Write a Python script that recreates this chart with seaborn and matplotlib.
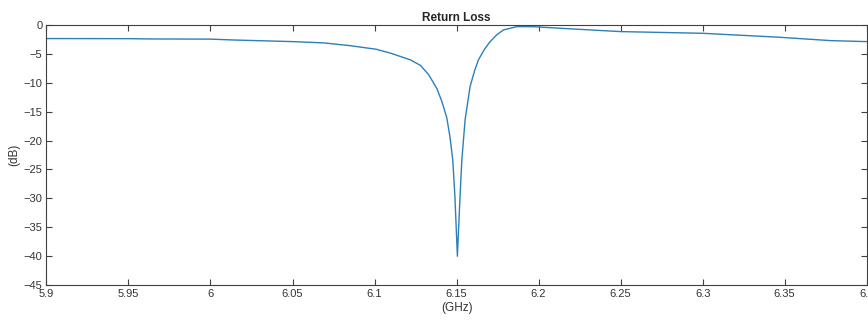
import matplotlib
matplotlib.use("Agg")
import matplotlib.pyplot as plt
import seaborn as sns

# return loss
freq_ghz = [5.900, 5.950, 5.963, 6.000, 6.014, 6.050, 6.069, 6.085, 6.101, 6.110,
            6.122, 6.128, 6.133, 6.138, 6.141, 6.144, 6.146, 6.1477, 6.149, 6.1505,
            6.1521, 6.1532, 6.1552, 6.1582, 6.161, 6.1633, 6.167, 6.1704, 6.1745, 6.1785,
            6.1867, 6.197, 6.213, 6.250, 6.300, 6.347, 6.378, 6.400]
s11_db = [-2.35, -2.37, -2.42, -2.45, -2.6, -2.88, -3.1, -3.58, -4.2, -4.9,
          -6.05, -7.0, -8.6, -11.0, -13.2, -16.0, -19.4, -23.4, -29.7, -40.0,
          -29.7, -23.4, -16.4, -10.7, -7.9, -6.05, -4.2, -2.9, -1.7, -0.87,
          -0.29, -0.3, -0.57, -1.15, -1.44, -2.13, -2.71, -2.88]

xticks = [5.9, 5.95, 6.0, 6.05, 6.1, 6.15, 6.2, 6.25, 6.3, 6.35, 6.4]
xtick_labels = ["5.9", "5.95", "6", "6.05", "6.1", "6.15", "6.2", "6.25", "6.3", "6.35", "6.4"]
yticks = [0, -5, -10, -15, -20, -25, -30, -35, -40, -45]

sns.set_style("white")
plt.rcParams["font.family"] = ["Liberation Sans", "DejaVu Sans"]

fig = plt.figure(figsize=(8.68, 3.2), dpi=100)
ax = fig.add_axes([0.0535, 0.109, 0.945, 0.813])

sns.lineplot(x=freq_ghz, y=s11_db, ax=ax, color="#2b80b9", linewidth=1.0)

ax.set_xlim(5.9, 6.4)
ax.set_ylim(-45, 0)
ax.set_xticks(xticks)
ax.set_xticklabels(xtick_labels)
ax.set_yticks(yticks)
ax.tick_params(direction="in", length=4, width=0.8, colors="#404040",
               labelsize=8, labelcolor="#333333", top=True, right=True,
               bottom=True, left=True, pad=3)
for s in ax.spines.values():
    s.set_color("#404040")
    s.set_linewidth(0.8)

ax.set_title("Return Loss", fontsize=8.5, fontweight="bold", pad=3)
ax.set_xlabel("(GHz)", fontsize=8.5, color="#333333", labelpad=2)
ax.set_ylabel("(dB)", fontsize=8.5, color="#333333", labelpad=2)

fig.savefig("out.png", dpi=100)
